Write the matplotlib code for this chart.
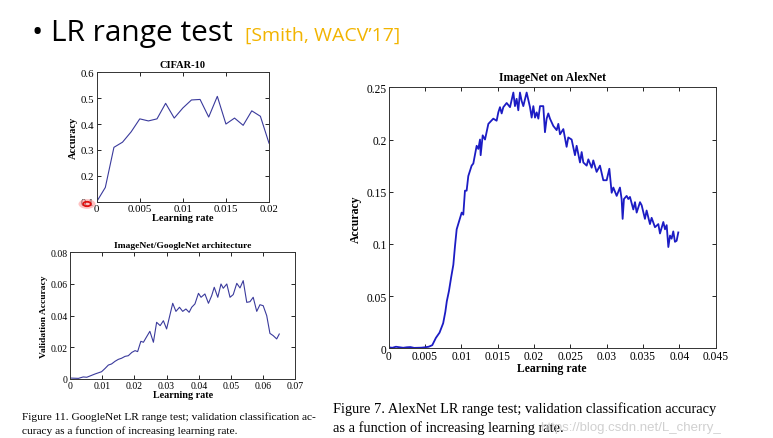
import matplotlib
matplotlib.use('Agg')
import matplotlib.pyplot as plt

# ===========================
# 데이터
# ===========================
CIFAR_LR = [0, 0.001, 0.002, 0.003, 0.004, 0.005, 0.006, 0.007, 0.008, 0.009, 0.010,
            0.011, 0.012, 0.013, 0.014, 0.015, 0.016, 0.017, 0.018, 0.019, 0.020]
CIFAR_ACC = [0.10, 0.155, 0.31, 0.33, 0.37, 0.42, 0.412, 0.42, 0.48, 0.423, 0.462,
             0.493, 0.495, 0.427, 0.507, 0.40, 0.423, 0.395, 0.451, 0.43, 0.326]

GOOG_LR = [0, 0.0026, 0.0041, 0.0052, 0.0062, 0.0078, 0.0098, 0.0109, 0.0119, 0.0129,
           0.0140, 0.0150, 0.0160, 0.0171, 0.0181, 0.0192, 0.0202, 0.0210, 0.0220, 0.0228,
           0.0238, 0.0248, 0.0259, 0.0269, 0.0280, 0.0290, 0.0300, 0.0319, 0.0329, 0.0340,
           0.0350, 0.0360, 0.0370, 0.0378, 0.0388, 0.0399, 0.0407, 0.0419, 0.0430, 0.0440,
           0.0448, 0.0459, 0.0469, 0.0476, 0.0487, 0.0497, 0.0507, 0.0518, 0.0528, 0.0538,
           0.0549, 0.0559, 0.0569, 0.0580, 0.0590, 0.0600, 0.0611, 0.0621, 0.0631, 0.0642,
           0.0650]
GOOG_ACC = [0.0006, 0.0004, 0.0013, 0.0011, 0.0019, 0.0032, 0.0046, 0.0067, 0.0088, 0.0095,
            0.0112, 0.0124, 0.0131, 0.0143, 0.0147, 0.0168, 0.0179, 0.0173, 0.0238, 0.0232,
            0.0267, 0.0301, 0.0232, 0.0358, 0.0337, 0.0368, 0.0316, 0.0478, 0.0427, 0.0453,
            0.0427, 0.0442, 0.0421, 0.0453, 0.0474, 0.0541, 0.0516, 0.0537, 0.0478, 0.0526,
            0.0579, 0.0516, 0.0600, 0.0573, 0.0600, 0.0516, 0.0533, 0.0604, 0.0575, 0.0621,
            0.0484, 0.0488, 0.0516, 0.0427, 0.0469, 0.0463, 0.0400, 0.0288, 0.0274, 0.0253,
            0.0284]

ALEX_LR = [0, 0.0005, 0.001, 0.0015, 0.002, 0.0025, 0.003, 0.0035, 0.004, 0.0045,
           0.005, 0.0055, 0.006, 0.0065, 0.007, 0.0075, 0.0078, 0.0080, 0.0083, 0.0086,
           0.0089, 0.00913, 0.00936, 0.01005, 0.01027, 0.0105, 0.01073, 0.01096, 0.01142, 0.01165,
           0.01211, 0.01234, 0.01257, 0.01266, 0.01294, 0.01326, 0.01372, 0.0144, 0.01486, 0.01509,
           0.01532, 0.01555, 0.01578, 0.01624, 0.0167, 0.01716, 0.01738, 0.01761, 0.01784, 0.01807,
           0.0183, 0.01853, 0.01899, 0.01945, 0.01968, 0.01991, 0.02014, 0.02037, 0.0206, 0.02083,
           0.02128, 0.02151, 0.02174, 0.02197, 0.0222, 0.02266, 0.02312, 0.02335, 0.02358, 0.02404,
           0.02449, 0.02472, 0.02518, 0.02564, 0.02587, 0.02633, 0.02656, 0.02679, 0.02725, 0.02748,
           0.02794, 0.02816, 0.02862, 0.02908, 0.02954, 0.03, 0.03037, 0.03069, 0.03092, 0.03138,
           0.03183, 0.03206, 0.0322, 0.03238, 0.03275, 0.03298, 0.03321, 0.03367, 0.0339, 0.03413,
           0.03459, 0.03482, 0.03527, 0.0355, 0.03596, 0.03619, 0.03665, 0.03711, 0.03734, 0.0378,
           0.03803, 0.03826, 0.03849, 0.03872, 0.03894, 0.03917, 0.0394, 0.03963, 0.03986]
ALEX_ACC = [0.001, 0.0005, 0.0015, 0.001, 0.0005, 0.001, 0.0012, 0.0004, 0.0005, 0.0006,
            0.001, 0.0015, 0.003, 0.010, 0.015, 0.024, 0.035, 0.045, 0.055, 0.068,
            0.080, 0.098, 0.114, 0.130, 0.128, 0.151, 0.151, 0.165, 0.175, 0.177,
            0.194, 0.191, 0.200, 0.185, 0.204, 0.200, 0.215, 0.220, 0.218, 0.226,
            0.231, 0.225, 0.231, 0.235, 0.231, 0.245, 0.232, 0.239, 0.228, 0.245,
            0.237, 0.232, 0.245, 0.231, 0.221, 0.232, 0.221, 0.226, 0.220, 0.232,
            0.232, 0.207, 0.220, 0.225, 0.220, 0.213, 0.209, 0.215, 0.205, 0.210,
            0.193, 0.202, 0.200, 0.185, 0.194, 0.178, 0.188, 0.178, 0.175, 0.181,
            0.173, 0.180, 0.169, 0.175, 0.161, 0.161, 0.172, 0.149, 0.154, 0.146,
            0.154, 0.143, 0.124, 0.143, 0.146, 0.143, 0.145, 0.133, 0.140, 0.130,
            0.140, 0.137, 0.124, 0.132, 0.119, 0.125, 0.116, 0.119, 0.110, 0.121,
            0.114, 0.118, 0.097, 0.108, 0.105, 0.112, 0.102, 0.103, 0.111]

SERIF = ['Liberation Serif', 'DejaVu Serif']
SANS = ['Open Sans', 'DejaVu Sans']
SMALL_LINE = '#3a3a9c'
ALEX_LINE = '#1c1cc4'


def style_axes(ax, tick_size):
    ax.tick_params(direction='in', top=True, right=True, length=3, width=0.6,
                   labelsize=tick_size, pad=1.5)
    for lab in ax.get_xticklabels() + ax.get_yticklabels():
        lab.set_family(SERIF)
    for sp in ax.spines.values():
        sp.set_linewidth(0.7)
        sp.set_color('#333333')


fig = plt.figure(figsize=(7.73, 4.39), dpi=100)
fig.patch.set_facecolor('white')

# ===========================
# 제목
# ===========================
fig.text(0.042, 0.907, '\u2022 LR range test', fontsize=21.5, family=SANS,
         color='black', va='baseline')
fig.text(0.317, 0.907, '[Smith, WACV\u201917]', fontsize=14, family=SANS,
         color='#f2b400', va='baseline')

# ===========================
# CIFAR-10
# ===========================
ax1 = fig.add_axes([0.1251, 0.5383, 0.2229, 0.2948])
ax1.plot(CIFAR_LR, CIFAR_ACC, color=SMALL_LINE, linewidth=0.8)
ax1.set_xlim(0, 0.02)
ax1.set_ylim(0.1, 0.6)
ax1.set_xticks([0, 0.005, 0.01, 0.015, 0.02])
ax1.set_xticklabels(['0', '0.005', '0.01', '0.015', '0.02'])
ax1.set_yticks([0.1, 0.2, 0.3, 0.4, 0.5, 0.6])
ax1.set_yticklabels(['0.1', '0.2', '0.3', '0.4', '0.5', '0.6'])
style_axes(ax1, 7.8)
ax1.set_title('CIFAR-10', fontsize=7.5, fontweight='bold', family=SERIF, pad=4)
ax1.set_xlabel('Learning rate', fontsize=7.5, fontweight='bold', family=SERIF, labelpad=0)
ax1.set_ylabel('Accuracy', fontsize=7.5, fontweight='bold', family=SERIF, labelpad=2)

# 커서 표시 (빨간 점)
fig.patches.append(plt.Circle((87 / 773, 1 - 205 / 439), 0.011, transform=fig.transFigure,
                              facecolor='#ff9a9a', edgecolor='none', alpha=0.6))
fig.patches.append(plt.Circle((87 / 773, 1 - 205 / 439), 0.005, transform=fig.transFigure,
                              facecolor='none', edgecolor='#e01010', linewidth=1.3))

# ===========================
# ImageNet / GoogleNet
# ===========================
ax2 = fig.add_axes([0.0906, 0.1344, 0.2915, 0.2886])
ax2.plot(GOOG_LR, GOOG_ACC, color=SMALL_LINE, linewidth=0.8)
ax2.set_xlim(0, 0.07)
ax2.set_ylim(0, 0.08)
ax2.set_xticks([0, 0.01, 0.02, 0.03, 0.04, 0.05, 0.06, 0.07])
ax2.set_xticklabels(['0', '0.01', '0.02', '0.03', '0.04', '0.05', '0.06', '0.07'])
ax2.set_yticks([0, 0.02, 0.04, 0.06, 0.08])
ax2.set_yticklabels(['0', '0.02', '0.04', '0.06', '0.08'])
style_axes(ax2, 7)
ax2.set_title('ImageNet/GoogleNet architecture', fontsize=6.8, fontweight='bold',
              family=SERIF, pad=4)
ax2.set_xlabel('Learning rate', fontsize=7.3, fontweight='bold', family=SERIF, labelpad=0)
ax2.set_ylabel('Validation Accuracy', fontsize=6.8, fontweight='bold', family=SERIF, labelpad=2)

# ===========================
# ImageNet on AlexNet
# ===========================
ax3 = fig.add_axes([0.5028, 0.2043, 0.4230, 0.5945])
ax3.plot(ALEX_LR, ALEX_ACC, color=ALEX_LINE, linewidth=1.3)
ax3.set_xlim(0, 0.045)
ax3.set_ylim(0, 0.25)
ax3.set_xticks([0, 0.005, 0.01, 0.015, 0.02, 0.025, 0.03, 0.035, 0.04, 0.045])
ax3.set_xticklabels(['0', '0.005', '0.01', '0.015', '0.02', '0.025', '0.03', '0.035',
                     '0.04', '0.045'])
ax3.set_yticks([0, 0.05, 0.1, 0.15, 0.2, 0.25])
ax3.set_yticklabels(['0', '0.05', '0.1', '0.15', '0.2', '0.25'])
style_axes(ax3, 8.3)
ax3.set_title('ImageNet on AlexNet', fontsize=8.5, fontweight='bold', family=SERIF, pad=5)
ax3.set_xlabel('Learning rate', fontsize=8.5, fontweight='bold', family=SERIF, labelpad=0)
ax3.set_ylabel('Accuracy', fontsize=8.5, fontweight='bold', family=SERIF, labelpad=3)

# ===========================
# 캡션
# ===========================
fig.text(22 / 773, 1 - 417 / 439,
         'Figure 11. GoogleNet LR range test; validation classification ac-',
         fontsize=8.2, family=SERIF, va='center')
fig.text(22 / 773, 1 - 431 / 439,
         'curacy as a function of increasing learning rate.',
         fontsize=8.2, family=SERIF, va='center')
fig.text(333 / 773, 1 - 409 / 439,
         'Figure 7. AlexNet LR range test; validation classification accuracy',
         fontsize=10.4, family=SERIF, va='center')
fig.text(333 / 773, 1 - 428 / 439,
         'as a function of increasing learning rate.',
         fontsize=10.4, family=SERIF, va='center')
fig.text(540 / 773, 1 - 428 / 439, 'https://blog.csdn.net/L_cherry_',
         fontsize=9.5, family=['Liberation Sans', 'DejaVu Sans'], color='#d0d0d0',
         va='center')

plt.savefig('out.png', dpi=100)
plt.close()
